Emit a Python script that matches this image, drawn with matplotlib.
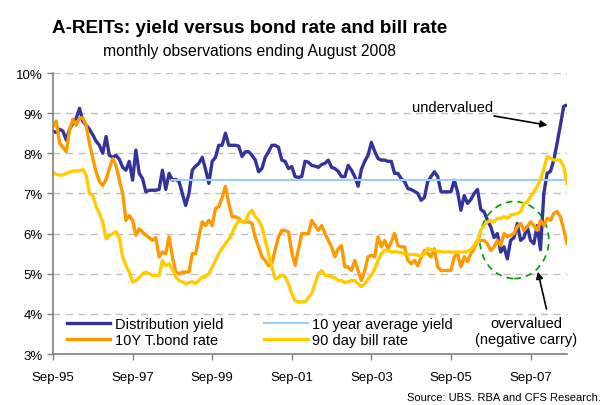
import numpy as np
import matplotlib
matplotlib.use('Agg')
import matplotlib.pyplot as plt
from matplotlib.patches import Ellipse

plt.rcParams['font.family'] = ['Liberation Sans', 'DejaVu Sans']

# monthly observations, Sep-95 .. Aug-08 (%)
dist_yield = [
    8.55, 8.52, 8.60, 8.55, 8.33, 8.60, 8.75, 8.87, 9.12, 8.80,
    8.70, 8.60, 8.46, 8.30, 8.20, 8.00, 8.42, 7.95, 7.90, 7.95,
    7.85, 7.65, 7.58, 7.80, 7.33, 8.08, 7.50, 7.37, 7.04, 7.08,
    7.08, 7.08, 7.10, 7.58, 7.10, 7.50, 7.33, 7.35, 7.30, 7.00,
    6.70, 7.00, 7.58, 7.68, 7.75, 7.90, 7.60, 7.25, 7.80, 7.90,
    8.20, 8.20, 8.50, 8.20, 8.20, 8.20, 8.18, 7.92, 8.04, 8.04,
    7.95, 7.83, 7.54, 7.62, 7.90, 8.04, 8.20, 8.20, 8.15, 7.83,
    7.80, 7.62, 7.67, 7.42, 7.40, 7.42, 7.80, 7.78, 7.70, 7.68,
    7.65, 7.72, 7.75, 7.83, 7.65, 7.62, 7.55, 7.42, 7.42, 7.70,
    7.58, 7.42, 7.18, 7.60, 7.80, 7.95, 8.27, 8.05, 7.87, 7.83,
    7.83, 7.80, 7.80, 7.50, 7.50, 7.37, 7.30, 7.12, 7.10, 7.05,
    7.00, 6.83, 6.90, 7.30, 7.42, 7.54, 7.42, 7.04, 7.04, 7.04,
    7.04, 7.33, 7.04, 6.58, 6.95, 6.75, 6.85, 7.00, 7.10, 6.60,
    6.54, 6.33, 6.17, 5.90, 6.00, 5.54, 5.67, 5.37, 5.83, 5.90,
    6.25, 5.83, 5.90, 6.17, 5.83, 5.75, 6.20, 5.60, 7.00, 7.50,
    7.55, 7.83, 8.25, 8.70, 9.17, 9.20]

bond_rate = [
    8.67, 8.80, 8.25, 8.15, 8.04, 8.58, 8.85, 8.70, 8.88, 8.88,
    8.70, 8.25, 7.87, 7.54, 7.30, 7.20, 7.35, 7.62, 7.87, 7.70,
    7.33, 7.00, 6.33, 6.45, 6.33, 5.96, 6.12, 6.04, 5.96, 5.90,
    5.83, 5.90, 5.42, 5.54, 5.50, 5.92, 5.42, 5.04, 5.00, 5.04,
    5.04, 5.04, 5.50, 5.50, 5.92, 6.29, 6.20, 6.33, 6.20, 6.63,
    6.67, 6.90, 7.18, 6.75, 6.42, 6.42, 6.38, 6.30, 6.29, 6.29,
    6.25, 5.90, 5.67, 5.42, 5.33, 5.20, 5.25, 5.60, 5.92, 6.08,
    6.08, 6.04, 5.54, 5.21, 5.60, 6.00, 6.00, 6.00, 6.33, 6.20,
    6.08, 6.20, 6.00, 5.83, 5.67, 5.42, 5.62, 5.70, 5.17, 5.17,
    5.08, 5.33, 5.08, 4.83, 5.08, 5.42, 5.46, 5.42, 5.92, 5.67,
    5.83, 5.62, 5.79, 6.00, 5.70, 5.67, 5.67, 5.33, 5.25, 5.33,
    5.20, 5.40, 5.58, 5.50, 5.42, 5.62, 5.17, 5.08, 5.08, 5.08,
    5.08, 5.42, 5.50, 5.17, 5.42, 5.30, 5.50, 5.62, 5.83, 5.83,
    5.83, 5.75, 5.58, 5.67, 5.83, 5.70, 6.00, 5.92, 5.96, 6.00,
    6.17, 6.25, 6.08, 6.17, 6.29, 6.20, 6.08, 6.33, 6.20, 6.38,
    6.33, 6.50, 6.55, 6.42, 6.10, 5.75]

bill_rate = [
    7.53, 7.47, 7.46, 7.46, 7.50, 7.53, 7.56, 7.56, 7.56, 7.60,
    7.45, 7.00, 6.95, 6.67, 6.50, 6.29, 5.87, 5.95, 6.00, 6.05,
    5.90, 5.42, 5.20, 5.04, 4.79, 4.83, 4.90, 5.00, 5.04, 5.00,
    4.96, 4.96, 4.96, 5.33, 5.20, 5.25, 5.12, 4.92, 4.83, 4.80,
    4.75, 4.78, 4.80, 4.75, 4.83, 4.92, 4.92, 5.00, 5.17, 5.33,
    5.50, 5.63, 5.75, 5.85, 6.00, 6.20, 6.33, 6.30, 6.30, 6.50,
    6.58, 6.42, 6.33, 6.17, 5.83, 5.50, 5.17, 4.87, 4.90, 4.96,
    4.92, 4.75, 4.50, 4.33, 4.30, 4.30, 4.30, 4.40, 4.50, 4.75,
    5.00, 5.08, 4.96, 4.96, 4.92, 4.90, 4.83, 4.83, 4.78, 4.80,
    4.83, 4.83, 4.75, 4.68, 4.75, 4.87, 4.96, 5.12, 5.33, 5.50,
    5.58, 5.58, 5.54, 5.55, 5.54, 5.52, 5.50, 5.48, 5.48, 5.48,
    5.46, 5.44, 5.50, 5.63, 5.60, 5.58, 5.56, 5.55, 5.54, 5.54,
    5.54, 5.54, 5.54, 5.54, 5.54, 5.56, 5.60, 5.71, 5.83, 6.08,
    6.20, 6.29, 6.33, 6.29, 6.38, 6.38, 6.42, 6.38, 6.46, 6.48,
    6.50, 6.54, 6.75, 6.79, 6.92, 7.04, 7.17, 7.35, 7.60, 7.92,
    7.88, 7.83, 7.83, 7.83, 7.67, 7.25]

avg_yield = 7.34      # 10 year average, Sep-98 .. Aug-08
avg_start = 36

tick_labels = ['Sep-95', 'Sep-97', 'Sep-99', 'Sep-01', 'Sep-03', 'Sep-05', 'Sep-07']
y_ticks = [3, 4, 5, 6, 7, 8, 9, 10]

months = np.arange(len(dist_yield))

fig = plt.figure(figsize=(6.14, 4.06), dpi=100)
ax = fig.add_axes([0.0863, 0.1256, 0.8372, 0.6921])

for v in y_ticks[1:]:
    ax.axhline(v, color='#c0c0c0', lw=1.0, ls=(0, (5, 4)), zorder=0)

l_dist, = ax.plot(months, dist_yield, color='#333399', lw=2.4, label='Distribution yield',
                  solid_joinstyle='round')
l_avg, = ax.plot(months[avg_start:], [avg_yield] * (len(months) - avg_start), color='#99ccff',
                 lw=1.5, label='10 year average yield')
l_bond, = ax.plot(months, bond_rate, color='#ff9900', lw=2.4, label='10Y T.bond rate',
                  solid_joinstyle='round')
l_bill, = ax.plot(months, bill_rate, color='#ffcc00', lw=2.4, label='90 day bill rate',
                  solid_joinstyle='round')

ax.set_xlim(0, len(months) - 1)
ax.set_ylim(3, 10)
ax.set_yticks(y_ticks)
ax.set_yticklabels(['%d%%' % v for v in y_ticks])
ax.set_xticks(np.arange(0, len(months), 24))
ax.set_xticklabels(tick_labels)
ax.tick_params(axis='both', labelsize=9.5, color='#808080', length=4, width=1)
ax.tick_params(axis='x', pad=8)
for s in ['top', 'right']:
    ax.spines[s].set_visible(False)
for s in ['left', 'bottom']:
    ax.spines[s].set_color('#808080')
    ax.spines[s].set_linewidth(1.2)

# green dashed circle round the negative carry period
ax.add_patch(Ellipse((139.1, 5.84), 20.8, 1.92, fill=False, ec='#009900', lw=1.2, ls=(0, (4, 3))))

ax.text(120.6, 9.15, 'undervalued', fontsize=10.5, ha='center', va='center')
ax.annotate('', xy=(149.1, 8.70), xytext=(133.0, 8.93),
            arrowprops=dict(arrowstyle='-|>', color='black', lw=1.2, shrinkA=0, shrinkB=0,
                            mutation_scale=10))
ax.annotate('', xy=(146.2, 5.05), xytext=(148.8, 4.12),
            arrowprops=dict(arrowstyle='-|>', color='black', lw=1.2, shrinkA=0, shrinkB=0,
                            mutation_scale=10))
ax.text(142.6, 3.57, 'overvalued\n(negative carry)', fontsize=10.5, ha='center', va='center',
        linespacing=1.15)

ax.legend(handles=[l_dist, l_bond, l_avg, l_bill], loc='lower left',
          bbox_to_anchor=(0.015, 0.005), ncol=2, frameon=False,
          fontsize=10.5, handlelength=3.0, handletextpad=0.3, columnspacing=2.8,
          labelspacing=0.1, borderaxespad=0)

fig.text(0.407, 0.929, 'A-REITs: yield versus bond rate and bill rate', ha='center', va='center',
         fontsize=13.6, fontweight='bold')
fig.text(0.407, 0.873, 'monthly observations ending August 2008', ha='center', va='center',
         fontsize=11.3)
fig.text(0.978, 0.008, 'Source: UBS. RBA and CFS Research.', ha='right', va='bottom', fontsize=8)

fig.savefig('out.png', dpi=100)
